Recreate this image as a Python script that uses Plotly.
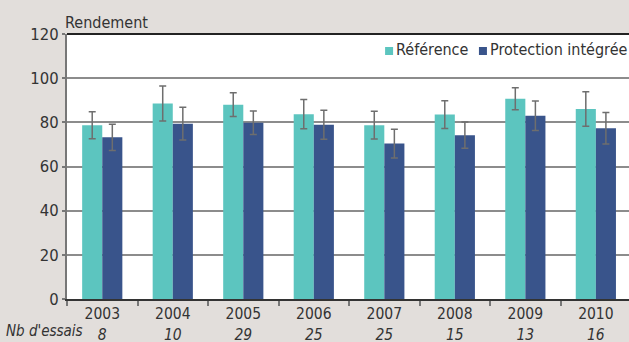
import plotly.graph_objects as go

years = ["2003", "2004", "2005", "2006", "2007", "2008", "2009", "2010"]
nb_essais = ["8", "10", "29", "25", "25", "15", "13", "16"]
reference = [78.7, 88.5, 88.0, 83.7, 78.7, 83.5, 90.7, 86.0]
reference_err = [6.1, 7.9, 5.4, 6.6, 6.3, 6.3, 5.0, 7.8]
protection = [73.2, 79.4, 79.8, 78.9, 70.4, 74.2, 83.0, 77.3]
protection_err = [5.9, 7.4, 5.3, 6.6, 6.5, 5.9, 6.7, 7.1]

FONT = "Liberation Sans Narrow, DejaVu Sans Condensed, Arial Narrow, sans-serif"
TEAL = "#5CC5BF"
NAVY = "#39548B"
BG = "#E2DEDB"
ERR = "#6E6E6E"
FS = 15.5

fig = go.Figure()
fig.add_trace(go.Bar(
    name="Référence", x=years, y=reference, marker_color=TEAL,
    marker_line_width=0,
    error_y=dict(type="data", array=reference_err, color=ERR, thickness=1.5, width=3.5),
))
fig.add_trace(go.Bar(
    name="Protection intégrée", x=years, y=protection, marker_color=NAVY,
    marker_line_width=0,
    error_y=dict(type="data", array=protection_err, color=ERR, thickness=1.5, width=3.5),
))

ticktext = [f"{y}<br><i>{n}</i>" for y, n in zip(years, nb_essais)]

fig.update_layout(
    width=629, height=342,
    margin=dict(l=67, r=0, t=34, b=43, autoexpand=False),
    paper_bgcolor=BG, plot_bgcolor="white",
    barmode="group", bargap=0.43, bargroupgap=0,
    showlegend=False,
    font=dict(family=FONT, size=FS, color="#333333"),
    xaxis=dict(
        type="category", tickmode="array", tickvals=years, ticktext=ticktext,
        range=[-0.5, 7.47], ticks="outside", tickson="boundaries", ticklen=5,
        tickcolor="#777777", tickwidth=1.5, showline=True, linecolor="#333333", linewidth=1.5,
        showgrid=False, automargin=False, tickfont=dict(size=FS, color="#333333"),
    ),
    yaxis=dict(
        range=[0, 120], tickvals=[0, 20, 40, 60, 80, 100, 120], showgrid=True,
        gridcolor="#8C8C8C", gridwidth=1.5, zeroline=False, showline=True,
        linecolor="#777777", linewidth=2, ticks="outside", ticklen=3, automargin=False,
        tickcolor="#777777", tickwidth=1.5, tickfont=dict(size=FS + 1, color="#333333"),
    ),
)

# top border line
fig.add_shape(type="line", xref="paper", yref="paper", x0=0, x1=1, y0=1, y1=1,
              line=dict(color="#222222", width=2))

# title
fig.add_annotation(text="Rendement", xref="paper", yref="paper", x=0, y=1,
                   xanchor="left", yanchor="bottom", xshift=-4, yshift=0, showarrow=False,
                   font=dict(size=FS + 0.5, color="#333333"))
# Nb d'essais label
fig.add_annotation(text="<i>Nb d'essais</i>", xref="paper", yref="paper", x=0, y=0,
                   xanchor="right", yanchor="top", xshift=18, yshift=-21, showarrow=False,
                   font=dict(size=FS - 0.5, color="#333333"))

# custom legend
legend_items = [("Référence", TEAL, 0.582), ("Protection intégrée", NAVY, 0.749)]
for label, col, xp in legend_items:
    fig.add_shape(type="rect", xref="paper", yref="y", xsizemode="pixel", ysizemode="pixel",
                  xanchor=xp, yanchor=112.3, x0=-9, x1=-1, y0=-4, y1=4,
                  fillcolor=col, line_width=0)
    fig.add_annotation(text=label, xref="paper", yref="y", x=xp, y=112.8,
                       xanchor="left", yanchor="middle", showarrow=False,
                       font=dict(size=FS + 0.5, color="#333333"))

fig.write_html("out.html")
